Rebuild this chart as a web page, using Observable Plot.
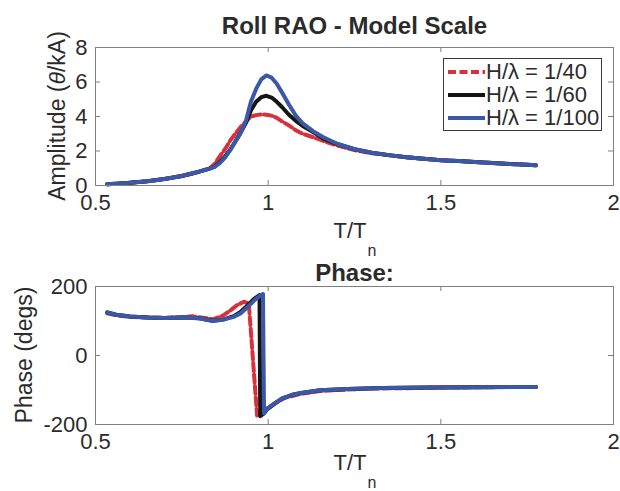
<!DOCTYPE html>
<html>
<head>
<meta charset="utf-8">
<script src="https://cdn.jsdelivr.net/npm/d3@7"></script>
<script src="https://cdn.jsdelivr.net/npm/@observablehq/plot@0.6"></script>
<style>
  body { margin: 0; background: #fff; }
  #chart { position: relative; width: 620px; height: 491px; font-family: "Liberation Sans", Arial, sans-serif; color: #2b2b2b; }
  #chart svg { display: block; }
  .legend { position: absolute; left: 443px; top: 58px; width: 159px; height: 73px; box-sizing: border-box;
            border: 1px solid #3a3a3a; background: #fff; padding-top: 1px; }
  .legend .row { display: flex; align-items: center; height: 23px; font-size: 22px; line-height: 23px; white-space: nowrap; }
  .legend svg { margin-left: 4px; margin-right: 1px; }
  .ylabel { position: absolute; font-size: 23px; line-height: 23px; white-space: nowrap;
            transform: translate(-50%, -50%) rotate(-90deg); }
  .ylabel i { font-style: italic; }
</style>
</head>
<body>
<div id="chart"></div>
<script>
// Axis ticks
const xTicks = [0.5, 1, 1.5, 2];
const ampTicks = [0, 2, 4, 6, 8];
const phaseTicks = [-200, 0, 200];

// Wave steepness cases
const seriesNames = ["H/λ = 1/40", "H/λ = 1/60", "H/λ = 1/100"];
const seriesColors = ["#d7313c", "#151515", "#3b58a8"];
const seriesDash = ["8,3.5", null, null];

// Roll amplitude (θ/kA) against period ratio T/Tn
const ampT     = [0.534, 0.56, 0.6, 0.65, 0.7, 0.75, 0.8, 0.83, 0.845, 0.86, 0.875, 0.89, 0.905, 0.92, 0.935, 0.95, 0.965, 0.98, 0.995, 1.01, 1.025, 1.04, 1.06, 1.08, 1.1, 1.13, 1.16, 1.2, 1.25, 1.3, 1.35, 1.4, 1.45, 1.5, 1.55, 1.6, 1.65, 1.7, 1.75, 1.775];
const ampRed   = [0.07, 0.1, 0.16, 0.25, 0.38, 0.55, 0.8, 0.98, 1.25, 1.7, 2.1, 2.6, 3.0, 3.38, 3.7, 4.0, 4.08, 4.12, 4.1, 4.05, 3.92, 3.72, 3.48, 3.2, 3.0, 2.8, 2.58, 2.32, 2.05, 1.87, 1.75, 1.64, 1.55, 1.47, 1.42, 1.36, 1.3, 1.25, 1.2, 1.17];
const ampBlack = [0.07, 0.1, 0.16, 0.25, 0.38, 0.55, 0.8, 0.98, 1.1, 1.35, 1.68, 2.08, 2.55, 3.05, 3.6, 4.35, 4.85, 5.12, 5.2, 5.1, 4.85, 4.55, 4.1, 3.75, 3.45, 3.1, 2.72, 2.4, 2.1, 1.9, 1.76, 1.64, 1.55, 1.47, 1.42, 1.36, 1.3, 1.25, 1.2, 1.17];
const ampBlue  = [0.07, 0.1, 0.16, 0.25, 0.38, 0.55, 0.8, 0.98, 1.08, 1.3, 1.62, 2.05, 2.55, 3.05, 3.7, 4.85, 5.6, 6.15, 6.38, 6.25, 5.9, 5.4, 4.7, 4.05, 3.6, 3.15, 2.8, 2.42, 2.1, 1.9, 1.76, 1.64, 1.55, 1.47, 1.42, 1.36, 1.3, 1.25, 1.2, 1.17];

// Roll phase (degrees) against period ratio T/Tn
const phaseRedT   = [0.534, 0.56, 0.6, 0.65, 0.7, 0.75, 0.78, 0.8, 0.84, 0.87, 0.89, 0.91, 0.93, 0.944, 0.968, 0.975, 0.99, 1.0, 1.02, 1.05, 1.1, 1.15, 1.2, 1.3, 1.45, 1.6, 1.775];
const phaseRed    = [122, 117, 112, 110, 109, 111, 114, 111, 105, 116, 130, 146, 156, 150, -174, -168, -158, -151, -138, -122, -110, -103, -100, -96, -94, -92, -91];
const phaseBlackT = [0.534, 0.56, 0.6, 0.65, 0.7, 0.75, 0.8, 0.84, 0.87, 0.9, 0.92, 0.94, 0.96, 0.975, 0.977, 0.985, 0.995, 1.02, 1.04, 1.07, 1.1, 1.15, 1.23, 1.33, 1.45, 1.6, 1.775];
const phaseBlack  = [125, 118, 113, 110, 109, 110, 108, 101, 104, 114, 126, 145, 165, 175, -176, -170, -158, -139, -125, -114, -108, -101, -97, -94, -93, -92, -91];
const phaseBlueT  = [0.534, 0.56, 0.6, 0.65, 0.7, 0.75, 0.8, 0.84, 0.87, 0.9, 0.92, 0.94, 0.96, 0.975, 0.985, 0.988, 1.0, 1.02, 1.04, 1.07, 1.1, 1.15, 1.23, 1.33, 1.45, 1.6, 1.775];
const phaseBlue   = [125, 118, 113, 110, 109, 110, 108, 100, 104, 112, 122, 140, 160, 172, 178, -168, -152, -138, -124, -114, -108, -101, -97, -94, -93, -92, -91];

const rows = (ts, vs) => ts.map((T, i) => ({T, v: vs[i]}));

const axisColor = "#7f7f7f";
const tickLen = 5;

function seriesLines(data) {
  return data.map((d, i) => Plot.line(d, {
    x: "T", y: "v", stroke: seriesColors[i], strokeWidth: 4,
    strokeDasharray: seriesDash[i], strokeLinejoin: "round"
  }));
}

function panel({height, marginTop, marginBottom, yDomain, yTicks, data, title, titleDy, xLabelDy}) {
  const marginLeft = 95, marginRight = 7;
  const frameW = 620 - marginLeft - marginRight;
  const frameH = height - marginTop - marginBottom;
  return Plot.plot({
    width: 620, height, marginLeft, marginRight, marginTop, marginBottom,
    style: {fontFamily: "Liberation Sans, Arial, sans-serif", fontSize: "22px", color: "#2b2b2b", background: "#fff", overflow: "visible"},
    x: {domain: [0.5, 2]},
    y: {domain: yDomain},
    marks: [
      ...seriesLines(data),
      Plot.frame({stroke: axisColor}),
      // inward ticks on all four sides of the box
      Plot.tickX(xTicks, {x: d => d, insetTop: frameH - tickLen, stroke: axisColor}),
      Plot.tickX(xTicks, {x: d => d, insetBottom: frameH - tickLen, stroke: axisColor}),
      Plot.tickY(yTicks, {y: d => d, insetRight: frameW - tickLen, stroke: axisColor}),
      Plot.tickY(yTicks, {y: d => d, insetLeft: frameW - tickLen, stroke: axisColor}),
      Plot.axisX(xTicks, {tickSize: 0, tickPadding: 9, tickFormat: d => String(d), label: null}),
      Plot.axisY(yTicks, {tickSize: 0, tickPadding: 8, tickFormat: d => String(d), label: null}),
      Plot.text([title], {text: d => d, frameAnchor: "top", lineAnchor: "top", dy: titleDy, fontWeight: "bold", fontSize: 24}),
      Plot.text(["T/T"], {text: d => d, frameAnchor: "bottom", textAnchor: "end", lineAnchor: "top", dx: 12, dy: xLabelDy}),
      Plot.text(["n"], {text: d => d, frameAnchor: "bottom", textAnchor: "start", lineAnchor: "top", dx: 13, dy: xLabelDy + 22, fontSize: 16})
    ]
  });
}

const chart = document.getElementById("chart");

chart.append(panel({
  height: 250, marginTop: 47, marginBottom: 65,
  yDomain: [0, 8], yTicks: ampTicks,
  data: [rows(ampT, ampRed), rows(ampT, ampBlack), rows(ampT, ampBlue)],
  title: "Roll RAO - Model Scale", titleDy: -31, xLabelDy: 37
}));

chart.append(panel({
  height: 241, marginTop: 36, marginBottom: 67,
  yDomain: [-200, 200], yTicks: phaseTicks,
  data: [rows(phaseRedT, phaseRed), rows(phaseBlackT, phaseBlack), rows(phaseBlueT, phaseBlue)],
  title: "Phase:", titleDy: -23, xLabelDy: 30
}));

// Rotated y-axis titles (θ set in italics)
const yTitles = [
  {parts: [["Amplitude (", false], ["θ", true], ["/kA)", false]], left: 57, top: 116},
  {parts: [["Phase (degs)", false]], left: 24, top: 355}
];
yTitles.forEach(t => {
  const div = d3.select(chart).append("div").attr("class", "ylabel")
    .style("left", t.left + "px").style("top", t.top + "px");
  t.parts.forEach(([s, italic]) => div.append(italic ? "i" : "span").text(s));
});

// Legend for the amplitude panel
const legend = d3.select(chart).append("div").attr("class", "legend");
seriesNames.forEach((name, i) => {
  const row = legend.append("div").attr("class", "row");
  const sw = row.append("svg").attr("width", 37).attr("height", 10);
  sw.append("line").attr("x1", 0).attr("x2", 37).attr("y1", 5).attr("y2", 5)
    .attr("stroke", seriesColors[i]).attr("stroke-width", 4)
    .attr("stroke-dasharray", seriesDash[i]);
  row.append("span").text(name);
});
</script>
</body>
</html>
